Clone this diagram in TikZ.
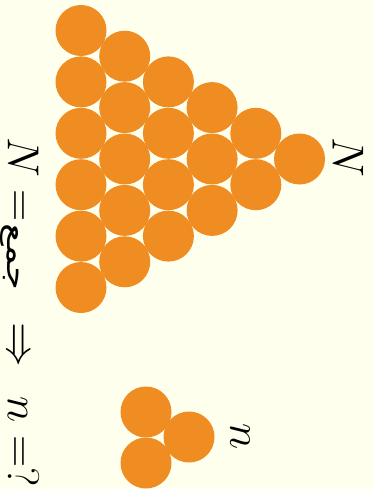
\documentclass[tikz,border=0pt]{standalone}
\usepackage{fontspec}
\usepackage{amsmath}
\usepackage{tikz}
\usetikzlibrary{positioning}
\newfontfamily\arabicfont[Script=Arabic, FakeStretch=1.35]{DejaVu Sans}
\TeXXeTstate=1
\definecolor{BG}{RGB}{255,255,238}
\definecolor{OR}{RGB}{239,140,34}

\begin{document}
\begin{tikzpicture}[x=1pt, y=-1pt,
  ball/.style={fill=OR},
  lbl/.style={rotate=-90, inner sep=0pt, font=\Huge, scale=1.8},
  word/.style={lbl, anchor=base, font=\arabicfont\fontsize{16}{18}\selectfont}
]
% background, keeps the margins
\fill[BG] (0,0) rectangle (374,489);
\useasboundingbox (0,0) rectangle (374,489);

% big triangle of N balls
\foreach \c in {0,...,5}{
  \pgfmathtruncatemacro{\last}{5-\c}
  \foreach \k in {0,...,\last}
    \fill[ball] ({81+43.7*\c}, {159+(\k-\last/2)*51.4}) circle[radius=25.5pt];
}
% small triangle of n balls
\fill[ball] (146,412) circle[radius=25.5pt];
\fill[ball] (146,463) circle[radius=25.5pt];
\fill[ball] (189,437) circle[radius=25.5pt];

\node[lbl] (bigN)   at (348,157) {$N$};
\node[lbl] (smalln) at (240,437) {$n$};

% the question, read from top to bottom
\node[lbl, anchor=base west] (lhs) at (8,137) {$N =$};
\node[word] (sum) at (8,257) {\beginR جمع\endR};
\node[lbl, anchor=base] (imp) at (8,345) {$\Rightarrow$};
\node[lbl, anchor=base east] (rhs) at (8,487) {$n = ?$};
\end{tikzpicture}
\end{document}
